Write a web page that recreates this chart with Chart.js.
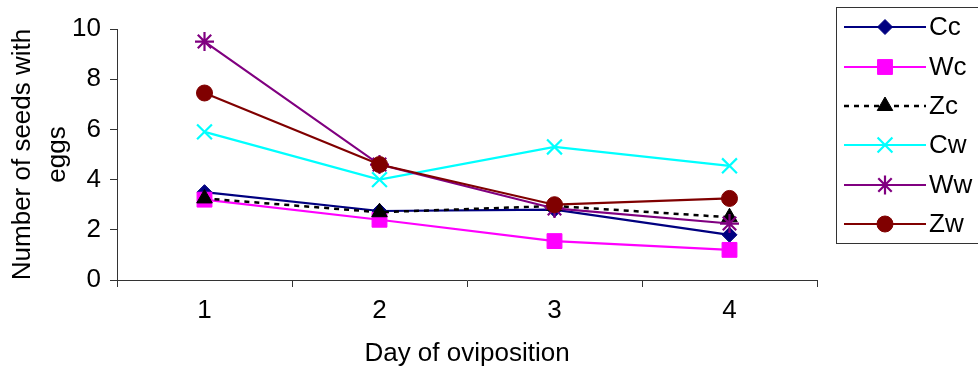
<!DOCTYPE html>
<html>
<head>
<meta charset="utf-8">
<script src="https://cdn.jsdelivr.net/npm/chart.js@4/dist/chart.umd.min.js"></script>
<style>
  html, body { margin: 0; padding: 0; background: #fff; }
  #wrap { width: 978px; height: 372px; position: relative; }
</style>
</head>
<body>
<div id="wrap"><canvas id="chart-seeds"></canvas></div>
<script>
// seeds with eggs per day of oviposition, six host/treatment groups
var days = ["1", "2", "3", "4"];
var seriesNames = ["Cc", "Wc", "Zc", "Cw", "Ww", "Zw"];
var cc = [3.5, 2.75, 2.8, 1.8];
var wc = [3.2, 2.4, 1.55, 1.2];
var zc = [3.25, 2.7, 2.95, 2.5];
var cw = [5.9, 4.0, 5.3, 4.55];
var ww = [9.5, 4.6, 2.85, 2.25];
var zw = [7.45, 4.6, 3.0, 3.25];

(function(){
  "use strict";
  if (typeof Chart === "undefined") return;

  var FONT = "'Liberation Sans', Arial, sans-serif";
  var SIZE = 26;
  Chart.defaults.font.family = FONT;
  Chart.defaults.color = "#000";

  function series(label, data, color, style, radius, extra){
    var ds = {
      label: label,
      data: data,
      borderColor: color,
      backgroundColor: color,
      pointBackgroundColor: color,
      pointBorderColor: color,
      borderWidth: 2.2,
      pointStyle: style,
      pointRadius: radius,
      pointHoverRadius: radius,
      pointBorderWidth: 1,
      tension: 0,
      fill: false
    };
    for (var k in extra) ds[k] = extra[k];
    return ds;
  }

  var datasets = [
    series(seriesNames[0], cc, "#000080", "rectRot", 7.5, { order: 6 }),
    series(seriesNames[1], wc, "#FF00FF", "rect", 10.5, { order: 5 }),
    series(seriesNames[2], zc, "#000000", "triangle", 9, { order: 4, borderDash: [5, 5], borderWidth: 2.5 }),
    series(seriesNames[3], cw, "#00FFFF", "crossRot", 10.5, { order: 3, pointBorderWidth: 2.2 }),
    series(seriesNames[4], ww, "#800080", "star", 9.5, { order: 2, pointBorderWidth: 2.2 }),
    series(seriesNames[5], zw, "#800000", "circle", 8, { order: 1 })
  ];

  // boxed legend at the right, one row per series: line, marker, name
  var boxLegend = {
    id: "boxLegend",
    afterDraw: function(chart){
      var ctx = chart.ctx;
      var rows = [27, 67, 106, 145, 185, 224];
      ctx.save();
      ctx.strokeStyle = "#333";
      ctx.lineWidth = 1;
      ctx.strokeRect(836.5, 7.5, 160, 236);
      chart.data.datasets.forEach(function(ds, i){
        var y = rows[i];
        ctx.save();
        ctx.strokeStyle = ds.borderColor;
        ctx.lineWidth = ds.borderWidth;
        ctx.setLineDash(ds.borderDash || []);
        ctx.beginPath();
        ctx.moveTo(844, y);
        ctx.lineTo(926, y);
        ctx.stroke();
        ctx.restore();
        ctx.fillStyle = ds.pointBackgroundColor;
        ctx.strokeStyle = ds.pointBorderColor;
        ctx.lineWidth = ds.pointBorderWidth;
        ctx.setLineDash([]);
        Chart.helpers.drawPoint(ctx, {
          pointStyle: ds.pointStyle,
          radius: ds.pointRadius,
          borderWidth: ds.pointBorderWidth,
          rotation: 0
        }, 885, y);
        ctx.fillStyle = "#000";
        ctx.font = SIZE + "px " + FONT;
        ctx.textBaseline = "middle";
        ctx.textAlign = "left";
        ctx.fillText(ds.label, 929, y + 1);
      });
      ctx.restore();
    }
  };

  new Chart(document.getElementById("chart-seeds"), {
    type: "line",
    data: { labels: days, datasets: datasets },
    plugins: [boxLegend],
    options: {
      responsive: true, maintainAspectRatio: false,
      animation: false,
      layout: { padding: { left: 0, right: 161, top: 29, bottom: 0 } },
      plugins: { legend: { display: false }, tooltip: { enabled: false } },
      scales: {
        x: {
          offset: true,
          afterFit: function(s){ s.height = 92; },
          grid: { offset: true, drawOnChartArea: false, drawTicks: true, tickLength: 7, tickColor: "#333", tickWidth: 1 },
          border: { color: "#333", width: 1 },
          ticks: { font: { size: SIZE }, padding: 8, color: "#000" },
          title: { display: true, text: "Day of oviposition", font: { size: SIZE }, padding: { top: 0, bottom: 3 } }
        },
        y: {
          min: 0, max: 10,
          afterFit: function(s){ s.width = 117; },
          grid: { drawOnChartArea: false, drawTicks: true, tickLength: 7, tickColor: "#333", tickWidth: 1 },
          border: { color: "#333", width: 1 },
          ticks: { stepSize: 2, font: { size: SIZE }, padding: 9, color: "#000" },
          title: {
            display: true,
            text: ["Number of seeds with", "eggs"],
            font: { size: SIZE, lineHeight: "35px" },
            padding: { top: 5, bottom: 0 }
          }
        }
      }
    }
  });
})();
</script>
</body>
</html>
